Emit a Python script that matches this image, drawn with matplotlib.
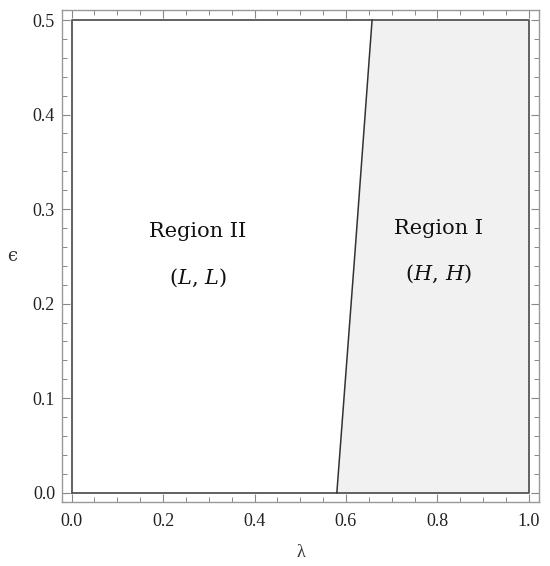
import matplotlib
matplotlib.use("Agg")
import matplotlib.pyplot as plt
from matplotlib.ticker import MultipleLocator

# boundary between regions (lambda as function of epsilon)
boundary_eps = [0.0, 0.25, 0.5]
boundary_lam = [0.58, 0.619, 0.657]

x_ticks = [0.0, 0.2, 0.4, 0.6, 0.8, 1.0]
y_ticks = [0.0, 0.1, 0.2, 0.3, 0.4, 0.5]

region_labels = ["Region II", "Region I"]
region_strategies = [r"$(L,\,L)$", r"$(H,\,H)$"]
label_pos_x = [0.276, 0.8015]
label_pos_y = [0.271, 0.274]
strat_pos_y = [0.2205, 0.225]

plt.rcParams['font.family'] = ['Liberation Serif', 'DejaVu Serif']
plt.rcParams['mathtext.fontset'] = 'dejavuserif'

fig = plt.figure(figsize=(5.5, 5.66), dpi=100)
ax = fig.add_axes([0.1127, 0.1131, 0.8673, 0.8692])

# Region I fill (right of boundary)
poly_x = boundary_lam + [1.0, 1.0]
poly_y = boundary_eps + [0.5, 0.0]
ax.fill(poly_x, poly_y, color='#f1f1f1', zorder=1, lw=0)

# region outline
ax.plot([0, 1, 1, 0, 0], [0, 0, 0.5, 0.5, 0], color='#555555', lw=1.3, zorder=2)
ax.plot(boundary_lam, boundary_eps, color='#333333', lw=1.1, zorder=3)

for lx, ly, sy, lab, st in zip(label_pos_x, label_pos_y, strat_pos_y, region_labels, region_strategies):
    ax.text(lx, ly, lab, ha='center', va='baseline', fontsize=15, color='#111111',
            family=['DejaVu Serif'])
    ax.text(lx, sy, st, ha='center', va='baseline', fontsize=15, color='#111111')

ax.set_xlim(-0.021, 1.022)
ax.set_ylim(-0.0098, 0.5106)
ax.set_xticks(x_ticks)
ax.set_yticks(y_ticks)
ax.set_xticklabels([f"{v:.1f}" for v in x_ticks])
ax.set_yticklabels([f"{v:.1f}" for v in y_ticks])
ax.xaxis.set_minor_locator(MultipleLocator(0.05))
ax.yaxis.set_minor_locator(MultipleLocator(0.02))
ax.tick_params(which='both', direction='in', top=True, right=True, color='#888888',
               labelsize=13, labelcolor='#222222')
ax.tick_params(which='major', length=6, width=0.8)
ax.tick_params(which='minor', length=3.5, width=0.7)
ax.tick_params(axis='x', which='major', pad=8)
ax.tick_params(axis='y', which='major', pad=5)
for s in ax.spines.values():
    s.set_color('#999999')
    s.set_linewidth(1.0)

ax.set_xlabel("λ", fontsize=13, color='#333333', labelpad=10)
ax.set_ylabel("ϵ", fontsize=13, color='#333333', rotation=0, va='center', ha='center',
              family=['DejaVu Serif'])
ax.yaxis.set_label_coords(-0.104, 0.499)

fig.savefig("out.png", dpi=100)
